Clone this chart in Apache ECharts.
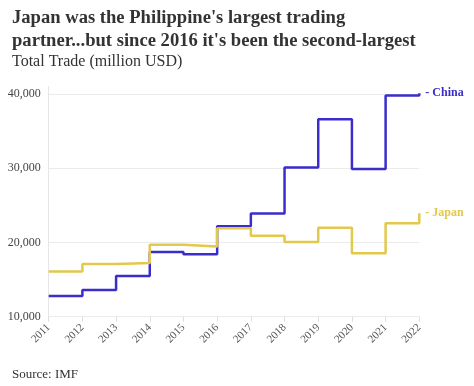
<!DOCTYPE html>
<html>
<head>
<meta charset="utf-8">
<script src="https://cdn.jsdelivr.net/npm/echarts@6/dist/echarts.min.js"></script>
<style>
html,body{margin:0;padding:0;background:#fff;}
#chart{width:474px;height:386px;}
</style>
</head>
<body>
<div id="chart"></div>
<script>
const years = ['2011','2012','2013','2014','2015','2016','2017','2018','2019','2020','2021','2022'];
const china = [12800, 13600, 15500, 18700, 18400, 22200, 23900, 30100, 36600, 29900, 39800, 40100];
const japan = [16100, 17100, 17250, 19700, 19450, 21900, 20900, 20050, 22000, 18550, 22600, 23950];
const yTicks = [10000, 20000, 30000, 40000];

const serif = '"Liberation Serif", "DejaVu Serif", serif';
const chart = echarts.init(document.getElementById('chart'));
chart.setOption({
  animation: false,
  textStyle: { fontFamily: serif },
  title: [
    { text: "Japan was the Philippine's largest trading\npartner...but since 2016 it's been the second-largest",
      left: 7, top: 2,
      textStyle: { fontFamily: serif, fontSize: 18.6, fontWeight: 'bold', color: '#333', lineHeight: 23 } },
    { text: 'Total Trade (million USD)', left: 7, top: 49,
      textStyle: { fontFamily: serif, fontSize: 16, fontWeight: 'normal', color: '#333' } },
    { text: 'Source: IMF', left: 7, top: 363,
      textStyle: { fontFamily: serif, fontSize: 13, fontWeight: 'normal', color: '#333' } }
  ],
  grid: { left: 48.7, right: 54.7, top: 86.6, bottom: 69.3 },
  xAxis: {
    type: 'category', data: years, boundaryGap: false,
    axisLine: { show: false },
    axisTick: { show: true, length: 5, lineStyle: { color: '#ddd' } },
    axisLabel: { rotate: 45, fontFamily: serif, fontSize: 11, color: '#555', margin: 9 },
    splitLine: { show: false }
  },
  yAxis: {
    type: 'value', min: 10000, max: 41000, interval: 10000,
    axisLine: { show: true, lineStyle: { color: '#e6e6e6' } },
    axisTick: { show: false },
    axisLabel: {
      fontFamily: serif, fontSize: 12, color: '#444', margin: 8, showMaxLabel: false,
      formatter: v => yTicks.includes(v) ? v.toLocaleString('en-US') : ''
    },
    splitLine: { show: true, showMaxLine: false, lineStyle: { color: '#ebebeb' } }
  },
  series: [
    { name: 'China', type: 'line', step: 'end', data: china, symbol: 'none',
      lineStyle: { color: '#3a2dcc', width: 2.5 }, itemStyle: { color: '#3a2dcc' },
      endLabel: { show: true, formatter: '- China', fontFamily: serif, fontSize: 12, fontWeight: 'bold', color: '#3a2dcc', distance: 6 } },
    { name: 'Japan', type: 'line', step: 'end', data: japan, symbol: 'none',
      lineStyle: { color: '#e2c84b', width: 2.5 }, itemStyle: { color: '#e2c84b' },
      endLabel: { show: true, formatter: '- Japan', fontFamily: serif, fontSize: 12, fontWeight: 'bold', color: '#e2c84b', distance: 6 } }
  ]
});
</script>
</body>
</html>
